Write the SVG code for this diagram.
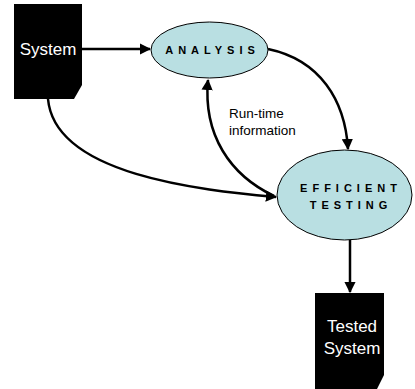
<svg xmlns="http://www.w3.org/2000/svg" width="415" height="389" viewBox="0 0 415 389">
<style>
.box{fill:#000}
.ell{fill:#b9dfe2;stroke:#000;stroke-width:1}
.bt{font-family:"Liberation Sans",Arial,sans-serif;font-size:17px;fill:#fff;text-anchor:middle}
.et{font-family:"Liberation Sans",Arial,sans-serif;font-size:11px;font-weight:bold;letter-spacing:5px;fill:#000;text-anchor:middle}
.lt{font-family:"Liberation Sans",Arial,sans-serif;font-size:13.5px;fill:#000}
.c{fill:none;stroke:#000;stroke-width:2.5;marker-end:url(#ah)}
</style>
<defs>
<marker id="ah" viewBox="0 0 10 10" refX="9" refY="5" markerWidth="4.5" markerHeight="4.5" orient="auto" markerUnits="strokeWidth">
<path d="M0,0 L10,5 L0,10 z" fill="#000"/>
</marker>
</defs>
<g id="connectors">
<path class="c" d="M82,49 L150,49"/>
<path class="c" d="M268,49 C320,60 345,100 348,149"/>
<path class="c" d="M48,99 C55,175 200,190 276,197"/>
<path class="c" d="M274,196 C230,175 203,135 208,80"/>
<path class="c" d="M350,240 L350,292"/>
</g>
<g id="system">
<path class="box" d="M14,4 H82 V85 L74,99 H14 Z"/>
<text class="bt" x="48" y="55">System</text>
</g>
<g id="analysis">
<ellipse class="ell" cx="209.5" cy="50" rx="58.5" ry="28"/>
<text class="et" x="212.5" y="54">ANALYSIS</text>
</g>
<g id="efficient">
<ellipse class="ell" cx="344.5" cy="195" rx="67.5" ry="45"/>
<text class="et" x="351" y="192">EFFICIENT</text>
<text class="et" x="351" y="209">TESTING</text>
</g>
<g id="tested">
<path class="box" d="M315,293 H384 V375 L377,389 H315 Z"/>
<text class="bt" x="352" y="332">Tested</text>
<text class="bt" x="352" y="354">System</text>
</g>
<g id="label">
<text class="lt" x="229" y="118">Run-time</text>
<text class="lt" x="229" y="135">information</text>
</g>
</svg>
